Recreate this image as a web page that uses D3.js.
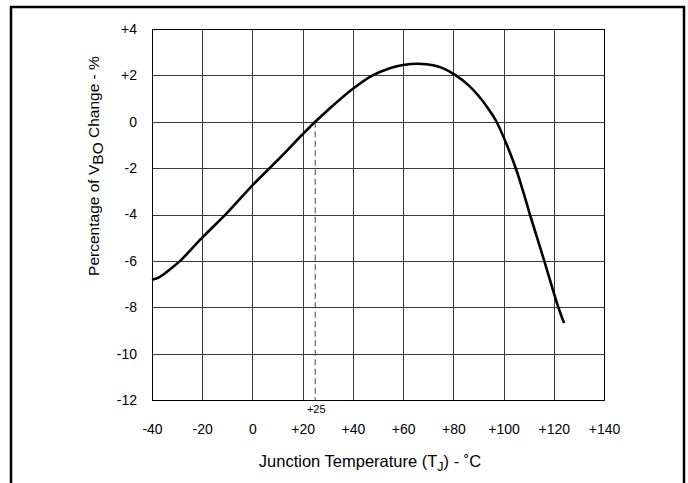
<!DOCTYPE html>
<html>
<head>
<meta charset="utf-8">
<script src="https://cdn.jsdelivr.net/npm/d3@7"></script>
<style>
  html, body { margin: 0; padding: 0; background: #fff; }
  svg { display: block; font-family: "Liberation Sans", Arial, sans-serif; }
</style>
</head>
<body>
<div id="viz"></div>
<script>
// Percentage of VBO change vs junction temperature

const TEMP_C = [-40, -37, -33, -28.8, -20, -10, 0, 10, 20, 25, 30, 40, 47.5, 55, 60, 66, 72, 76, 81, 86, 90, 94, 97.2, 101, 105, 108, 110.5, 116.2, 121.8, 124.1];
const VBO_CHANGE = [-6.81, -6.7, -6.38, -6.0, -5.0, -3.92, -2.74, -1.66, -0.54, 0, 0.5, 1.42, 1.98, 2.32, 2.45, 2.5, 2.44, 2.3, 2.0, 1.58, 1.12, 0.55, 0, -0.92, -2.05, -3.08, -4.0, -6.0, -8.0, -8.68];

const X_TICKS = [-40, -20, 0, 20, 40, 60, 80, 100, 120, 140];
const Y_TICKS = [4, 2, 0, -2, -4, -6, -8, -10, -12];
const REF_TEMP = 25;

const width = 688, height = 483;
const plot = { left: 152, top: 29, right: 604, bottom: 400 };

const fmt = v => v > 0 ? "+" + v : "" + v;

const svg = d3.select("#viz").append("svg")
  .attr("width", width)
  .attr("height", height);

// outer frame (bottom edge runs off the picture)
svg.append("rect")
  .attr("x", 11).attr("y", 7)
  .attr("width", 673).attr("height", 500)
  .attr("fill", "none")
  .attr("stroke", "#000")
  .attr("stroke-width", 2.5);

const x = d3.scaleLinear().domain([-40, 140]).range([plot.left, plot.right]);
const y = d3.scaleLinear().domain([-12, 4]).range([plot.bottom, plot.top]);

// grid + x axis
const xAxis = svg.append("g")
  .attr("transform", `translate(0,${plot.bottom})`)
  .call(d3.axisBottom(x)
    .tickValues(X_TICKS)
    .tickFormat(fmt)
    .tickSize(-(plot.bottom - plot.top))
    .tickPadding(24));
xAxis.select(".domain").remove();
xAxis.selectAll("line")
  .attr("stroke", "#3a3a3a")
  .attr("shape-rendering", "crispEdges");
xAxis.selectAll("text")
  .attr("font-size", 14)
  .attr("fill", "#000");

// grid + y axis
const yAxis = svg.append("g")
  .attr("transform", `translate(${plot.left},0)`)
  .call(d3.axisLeft(y)
    .tickValues(Y_TICKS)
    .tickFormat(fmt)
    .tickSize(-(plot.right - plot.left))
    .tickPadding(15));
yAxis.select(".domain").remove();
yAxis.selectAll("line")
  .attr("stroke", "#3a3a3a")
  .attr("shape-rendering", "crispEdges");
yAxis.selectAll("text")
  .attr("font-size", 14)
  .attr("fill", "#000");

// plot border
svg.append("rect")
  .attr("x", plot.left).attr("y", plot.top)
  .attr("width", plot.right - plot.left)
  .attr("height", plot.bottom - plot.top)
  .attr("fill", "none")
  .attr("stroke", "#000")
  .attr("shape-rendering", "crispEdges");

// +25 reference dashed line
svg.append("line")
  .attr("x1", x(REF_TEMP)).attr("x2", x(REF_TEMP))
  .attr("y1", y(0)).attr("y2", plot.bottom)
  .attr("stroke", "#444")
  .attr("stroke-dasharray", "6 3.5");

svg.append("text")
  .attr("x", x(REF_TEMP) + 1)
  .attr("y", plot.bottom + 13)
  .attr("text-anchor", "middle")
  .attr("font-size", 11)
  .text("+25");

// curve
const pts = TEMP_C.map((t, i) => [t, VBO_CHANGE[i]]);
svg.append("path")
  .datum(pts)
  .attr("fill", "none")
  .attr("stroke", "#000")
  .attr("stroke-width", 2.6)
  .attr("stroke-linejoin", "round")
  .attr("d", d3.line()
    .x(d => x(d[0]))
    .y(d => y(d[1]))
    .curve(d3.curveCatmullRom.alpha(0.5)));

// x title
const xt = svg.append("text")
  .attr("x", 370)
  .attr("y", 467)
  .attr("text-anchor", "middle")
  .attr("font-size", 16.5);
xt.append("tspan").text("Junction Temperature (T");
xt.append("tspan").attr("font-size", 12.5).attr("dy", 4).text("J");
xt.append("tspan").attr("dy", -4).text(") - ˚C");

// y title
const yt = svg.append("text")
  .attr("transform", "translate(99,166) rotate(-90)")
  .attr("text-anchor", "middle")
  .attr("font-size", 15.5);
yt.append("tspan").text("Percentage of V");
yt.append("tspan").attr("dy", 4).text("BO");
yt.append("tspan").attr("dy", -4).text(" Change - %");
</script>
</body>
</html>
